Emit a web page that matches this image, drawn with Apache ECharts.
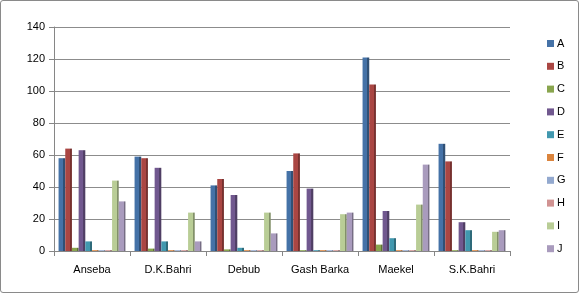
<!DOCTYPE html>
<html><head><meta charset="utf-8">
<script src="https://cdn.jsdelivr.net/npm/echarts@6/dist/echarts.min.js"></script>
<style>
html,body{margin:0;padding:0;background:#fff;}
#c{position:absolute;left:0;top:0;width:577px;height:291px;border:1px solid #8a8a8a;border-radius:3px;}
</style></head>
<body><div id="c"></div>
<script>
const categories = ['Anseba','D.K.Bahri','Debub','Gash Barka','Maekel','S.K.Bahri'];
const seriesNames = ['A','B','C','D','E','F','G','H','I','J'];
const A = [58, 59, 41, 50, 121, 67];
const B = [64, 58, 45, 61, 104, 56];
const C = [2, 1.5, 1, 0.5, 4, 0.5];
const D = [63, 52, 35, 39, 25, 18];
const E = [6, 6, 2, 0.5, 8, 13];
const F = [0.5, 0.5, 0.5, 0.5, 0.5, 0.5];
const G = [0.5, 0.5, 0.5, 0.5, 0.5, 0.5];
const H = [0.5, 0.5, 0.5, 0.5, 0.5, 0.5];
const I = [44, 24, 24, 23, 29, 12];
const J = [31, 6, 11, 24, 54, 13];
const yTicks = [0, 20, 40, 60, 80, 100, 120, 140];
const values = [A,B,C,D,E,F,G,H,I,J];
const colors = ['#4572A7','#AA4643','#89A54E','#71588F','#4198AF','#DB843D','#93A9CF','#D19392','#B9CD96','#A99BBD'];
function shade(hex, f){
  const n=parseInt(hex.slice(1),16);let r=n>>16,g=(n>>8)&255,b=n&255;
  r=Math.round(r*f);g=Math.round(g*f);b=Math.round(b*f);
  const cl=v=>Math.max(0,Math.min(255,v));
  return 'rgb('+cl(r)+','+cl(g)+','+cl(b)+')';
}
const chart = echarts.init(document.getElementById('c'));
chart.setOption({
  animation:false,
  textStyle:{fontFamily:'Liberation Sans, Arial, sans-serif'},
  grid:{left:53,right:68,top:26,bottom:41,containLabel:false},
  legend:{orient:'vertical',left:541,top:32,height:255,itemWidth:7,itemHeight:7,itemGap:11.8,
    textStyle:{fontSize:11,color:'#000',padding:[0,0,0,-2]},icon:'rect',
    data:seriesNames.map((n,i)=>({name:n,itemStyle:{color:colors[i]}}))},
  xAxis:{type:'category',data:categories,
    axisLine:{lineStyle:{color:'#868686'}},
    axisTick:{show:true,alignWithLabel:false,length:5,lineStyle:{color:'#868686'}},
    axisLabel:{color:'#000',fontSize:11,margin:13}},
  yAxis:{type:'value',min:yTicks[0],max:yTicks[yTicks.length-1],interval:20,
    axisLine:{show:true,lineStyle:{color:'#868686'}},
    axisTick:{show:true,length:5,lineStyle:{color:'#868686'}},
    axisLabel:{color:'#000',fontSize:11,margin:9},
    splitLine:{lineStyle:{color:'#8c8c8c',width:1}}},
  series: seriesNames.map((n,i)=>({
    name:n,type:'bar',data:values[i],barGap:'0%',barCategoryGap:'12%',
    itemStyle:{color:new echarts.graphic.LinearGradient(0,0,1,0,[
      {offset:0,color:colors[i]},{offset:0.72,color:colors[i]},{offset:0.73,color:shade(colors[i],0.7)},{offset:1,color:shade(colors[i],0.7)}])}
  }))
});
</script></body></html>
